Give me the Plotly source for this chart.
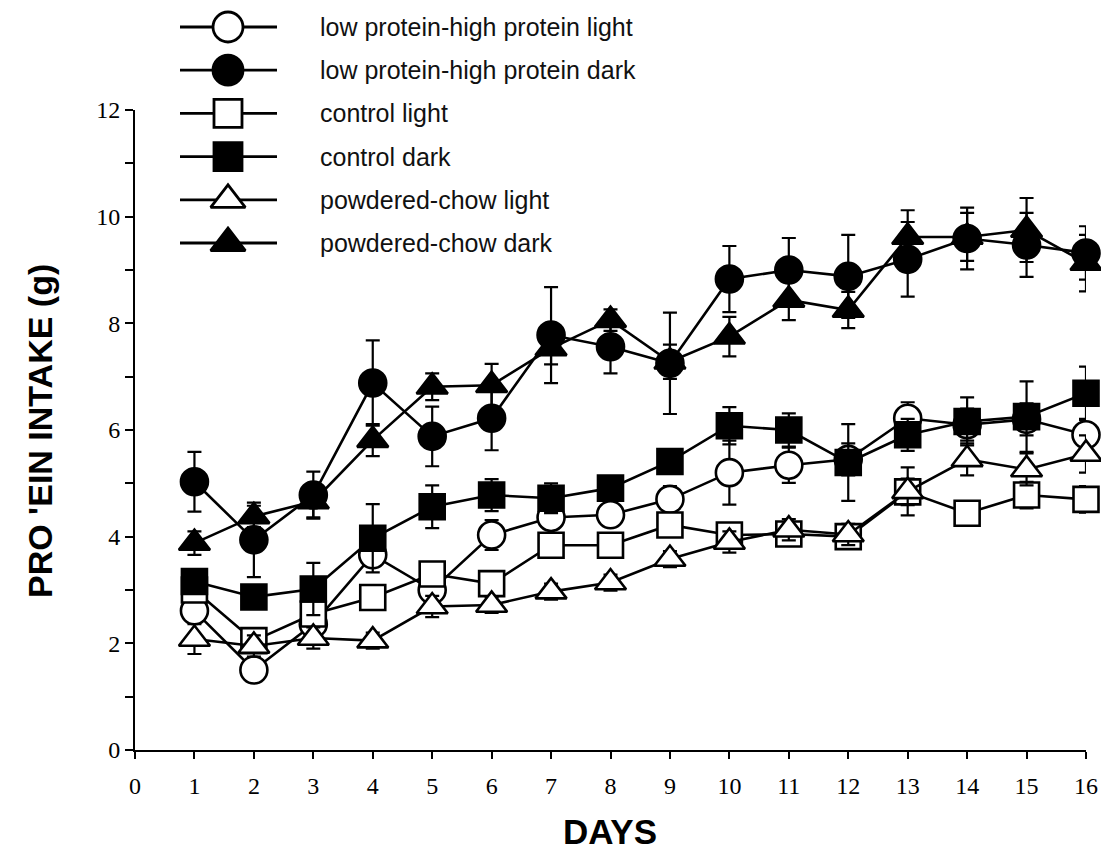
import plotly.graph_objects as go

# ---------------- data ----------------
days = list(range(1, 17))

lphp_light = [2.61, 1.50, 2.36, 3.66, 3.00, 4.03, 4.36, 4.41, 4.70, 5.20, 5.34, 5.45, 6.22, 6.10, 6.20, 5.91]
lphp_light_err = [0.20, 0.15, 0.20, 0.20, 0.20, 0.28, 0.20, 0.20, 0.25, 0.60, 0.33, 0.30, 0.30, 0.30, 0.30, 0.30]

lphp_dark = [5.03, 3.94, 4.78, 6.88, 5.88, 6.22, 7.78, 7.56, 7.25, 8.83, 9.00, 8.88, 9.20, 9.59, 9.47, 9.32]
lphp_dark_err = [0.56, 0.70, 0.44, 0.80, 0.56, 0.60, 0.90, 0.50, 0.95, 0.62, 0.60, 0.78, 0.70, 0.58, 0.60, 0.50]

ctrl_light = [3.00, 2.05, 2.55, 2.86, 3.30, 3.12, 3.84, 3.84, 4.22, 4.03, 4.05, 4.00, 4.84, 4.44, 4.78, 4.70]
ctrl_light_err = [0.15, 0.15, 0.20, 0.20, 0.20, 0.15, 0.15, 0.15, 0.20, 0.20, 0.15, 0.15, 0.25, 0.20, 0.25, 0.25]

ctrl_dark = [3.16, 2.87, 3.02, 3.97, 4.56, 4.78, 4.72, 4.91, 5.41, 6.08, 6.00, 5.39, 5.91, 6.16, 6.25, 6.69]
ctrl_dark_err = [0.15, 0.15, 0.49, 0.64, 0.40, 0.30, 0.28, 0.20, 0.20, 0.35, 0.31, 0.72, 0.30, 0.45, 0.66, 0.50]

pc_light = [2.08, 1.95, 2.10, 2.05, 2.69, 2.72, 2.97, 3.14, 3.58, 3.90, 4.13, 4.04, 4.85, 5.45, 5.26, 5.55]
pc_light_err = [0.28, 0.20, 0.20, 0.15, 0.20, 0.15, 0.15, 0.15, 0.15, 0.20, 0.20, 0.20, 0.45, 0.30, 0.30, 0.35]

pc_dark = [3.88, 4.38, 4.66, 5.81, 6.81, 6.84, 7.53, 8.06, 7.28, 7.75, 8.44, 8.25, 9.62, 9.62, 9.75, 9.13]
pc_dark_err = [0.22, 0.20, 0.30, 0.30, 0.25, 0.40, 0.30, 0.20, 0.32, 0.37, 0.38, 0.34, 0.50, 0.45, 0.60, 0.53]

legend_labels = [
    "low protein-high protein light",
    "low protein-high protein dark",
    "control light",
    "control dark",
    "powdered-chow light",
    "powdered-chow dark",
]

x_ticks = list(range(0, 17))
y_ticks = [0, 2, 4, 6, 8, 10, 12]

# ---------------- styles ----------------
BLACK = "#000000"
WHITE = "#ffffff"
styles = [
    dict(symbol="circle", color=WHITE, size=27),
    dict(symbol="circle", color=BLACK, size=27),
    dict(symbol="square", color=WHITE, size=25),
    dict(symbol="square", color=BLACK, size=25),
    dict(symbol="triangle-up", color=WHITE, size=27),
    dict(symbol="triangle-up", color=BLACK, size=27),
]
series = [
    (lphp_light, lphp_light_err, 0),
    (ctrl_light, ctrl_light_err, 2),
    (pc_light, pc_light_err, 4),
    (ctrl_dark, ctrl_dark_err, 3),
    (lphp_dark, lphp_dark_err, 1),
    (pc_dark, pc_dark_err, 5),
]

# ---------------- layout geometry (px) ----------------
W, H = 1101, 855
PL, PR = 135, 1086          # plot left / right
PB, PT_MAIN = 750, 110      # plot bottom / main y-axis top
MT = 5                      # top margin
plot_h = H - MT - (H - PB)
main_top = (PB - PT_MAIN) / plot_h

# legend rows
LEG_Y0, LEG_DY = 27, 43.2
LEG_BOTTOM = 272
leg_dom_bottom = (PB - LEG_BOTTOM) / plot_h
leg_range = [(LEG_BOTTOM - LEG_Y0) / LEG_DY, (MT - LEG_Y0) / LEG_DY]
LEG_LINE = [180 - PL, 277 - PL]
LEG_MARK = 228 - PL
LEG_TEXT = 318 - PL

fig = go.Figure()

for vals, err, si in series:
    st = styles[si]
    fig.add_trace(go.Scatter(
        x=days, y=vals, mode="lines+markers",
        line=dict(color=BLACK, width=2.6),
        marker=dict(symbol=st["symbol"], size=st["size"], color=st["color"],
                    line=dict(color=BLACK, width=2.6)),
        error_y=dict(type="data", array=err, color=BLACK, thickness=2.2, width=7),
        cliponaxis=False, showlegend=False, hoverinfo="skip",
    ))

# custom legend drawn on an auxiliary axis
for i, lab in enumerate(legend_labels):
    st = styles[i]
    fig.add_trace(go.Scatter(
        x=LEG_LINE, y=[i, i], mode="lines", line=dict(color=BLACK, width=2.8),
        xaxis="x2", yaxis="y2", showlegend=False, hoverinfo="skip", cliponaxis=False,
    ))
    fig.add_trace(go.Scatter(
        x=[LEG_MARK], y=[i], mode="markers",
        marker=dict(symbol=st["symbol"], size=st["size"] + 3, color=st["color"],
                    line=dict(color=BLACK, width=2.8)),
        xaxis="x2", yaxis="y2", showlegend=False, hoverinfo="skip", cliponaxis=False,
    ))
    fig.add_annotation(x=LEG_TEXT, y=i, xref="x2", yref="y2", text=lab,
                       showarrow=False, xanchor="left", yanchor="middle",
                       font=dict(family="Liberation Sans, Arial", size=25, color="#111111"))

fig.add_annotation(x=(610 - PL) / (PR - PL), y=(PB - 831) / plot_h, xref="paper", yref="paper",
                   text="<b>DAYS</b>", showarrow=False, xanchor="center", yanchor="middle",
                   font=dict(family="Liberation Sans, Arial", size=35, color=BLACK))
fig.add_annotation(x=(40 - PL) / (PR - PL), y=(PB - 431) / plot_h, xref="paper", yref="paper",
                   text="<b>PRO 'EIN INTAKE (g)</b>", showarrow=False, textangle=-90,
                   xanchor="center", yanchor="middle",
                   font=dict(family="Liberation Sans, Arial", size=34, color=BLACK))

fig.update_layout(
    width=W, height=H,
    margin=dict(l=PL, r=W - PR, t=MT, b=H - PB, autoexpand=False),
    paper_bgcolor=WHITE, plot_bgcolor="rgba(0,0,0,0)",
    showlegend=False,
    xaxis=dict(range=[0, 16], tickvals=x_ticks, ticktext=[str(t) for t in x_ticks],
               showgrid=False, zeroline=False, showline=True, linecolor=BLACK, linewidth=2,
               ticks="outside", ticklen=7, tickwidth=2, tickcolor=BLACK, ticklabelstandoff=6,
               tickfont=dict(family="Liberation Serif, Times New Roman", size=24, color=BLACK),
               anchor="y", automargin=False),
    yaxis=dict(range=[0, 12], domain=[0, main_top], tickvals=y_ticks,
               showgrid=False, zeroline=False, showline=True, linecolor=BLACK, linewidth=2,
               ticks="outside", ticklen=8, tickwidth=2, tickcolor=BLACK,
               minor=dict(dtick=1, ticks="outside", ticklen=8, tickwidth=2, tickcolor=BLACK),
               tickfont=dict(family="Liberation Serif, Times New Roman", size=24, color=BLACK),
               anchor="x", automargin=False),
    xaxis2=dict(range=[0, PR - PL], domain=[0, 1], visible=False, anchor="y2", fixedrange=True),
    yaxis2=dict(range=leg_range, domain=[leg_dom_bottom, 1], visible=False, anchor="x2", fixedrange=True),
)

fig.write_html("out.html")
